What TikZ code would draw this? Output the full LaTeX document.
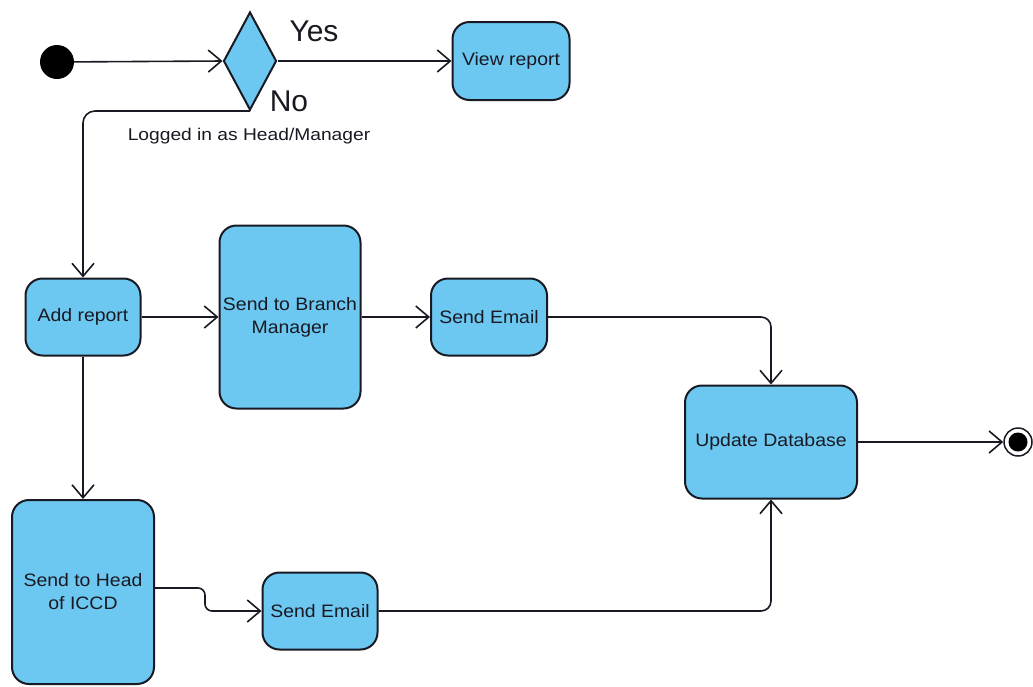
\documentclass[tikz,border=0pt]{standalone}
\usepackage{fontspec}
\setmainfont{Liberation Sans}
\newfontfamily\boxfont[FakeStretch=1.08]{Liberation Sans}
\newfontfamily\notefont[FakeStretch=1.13]{Liberation Sans}
\usetikzlibrary{shapes.geometric,arrows.meta}
\definecolor{actblue}{RGB}{108,200,240}
\definecolor{inkdark}{RGB}{25,25,35}
\tikzset{
  act/.style={draw=inkdark, line width=2pt, fill=actblue, rounded corners=17pt,
    align=center, inner sep=0pt, text=inkdark,
    font=\boxfont\fontsize{18}{23}\selectfont},
  flow/.style={draw=inkdark, line width=1.6pt,
    -{Straight Barb[length=13pt,width=22pt,line width=1.6pt]}},
  guard/.style={text=inkdark, inner sep=0pt, font=\fontsize{30}{32}\selectfont}
}
\begin{document}
\begin{tikzpicture}[x=1pt,y=-1pt]
\useasboundingbox (0,0) rectangle (1033,686);

% initial and final states
\node[circle, fill=black, minimum size=34pt, inner sep=0pt] (start) at (57,62) {};
\node[circle, draw=inkdark, line width=1.5pt, fill=white, minimum size=28pt, inner sep=0pt,
  path picture={\fill[black] (path picture bounding box.center) circle (9.5pt);}]
  (stop) at (1018,442) {};

% decision
\node[diamond, draw=inkdark, line width=2pt, fill=actblue, inner sep=0pt,
  minimum width=53pt, minimum height=98pt] (dec) at (250,61) {};
\node[guard] (yes) at (314,31) {Yes};
\node[guard] (no) at (289,101) {No};
\node[text=inkdark, inner sep=0pt, font=\notefont\fontsize{17}{19}\selectfont] (cond) at (249,136)
  {Logged in as Head/Manager};

% activities
\node[act, minimum width=117pt, minimum height=78pt] (view) at (511,61) {View report};
\node[act, minimum width=115pt, minimum height=77pt] (add) at (83,317) {Add report};
\node[act, minimum width=141pt, minimum height=183pt] (branch) at (290,317)
  {Send to Branch\\Manager};
\node[act, minimum width=116pt, minimum height=77pt] (mail1) at (489,317) {Send Email};
\node[act, minimum width=172pt, minimum height=113pt] (upd) at (771,442) {Update Database};
\node[act, minimum width=142pt, minimum height=184pt] (head) at (83,592)
  {Send to Head\\of ICCD};
\node[act, minimum width=115pt, minimum height=77pt] (mail2) at (320,611) {Send Email};

% control flows
\draw[flow] (start) -- (dec.west);
\draw[flow] (dec.east) -- (view.west);
\draw[flow, rounded corners=12pt] (dec.south) -| (add.north);
\draw[flow] (add.east) -- (branch.west);
\draw[flow] (branch.east |- mail1.west) -- (mail1.west);
\draw[flow, rounded corners=10pt] (mail1.east) -| (upd.north);
\draw[flow] (add.south) -- (head.north);
\draw[flow, rounded corners=7pt] ([yshift=4pt]head.east) -- ++(50,0) |- (mail2.west);
\draw[flow, rounded corners=10pt] (mail2.east) -| (upd.south);
\draw[flow] (upd.east) -- (stop.west);
\end{tikzpicture}
\end{document}
